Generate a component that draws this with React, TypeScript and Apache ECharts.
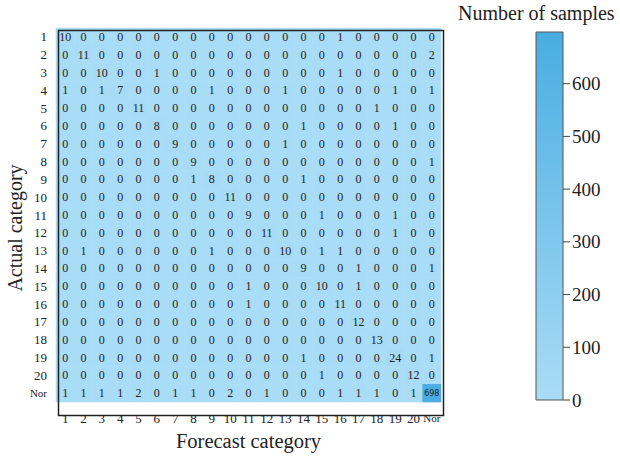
import React, { useEffect, useRef } from "react";
import * as echarts from "echarts";

const categories = ["1","2","3","4","5","6","7","8","9","10","11","12","13","14","15","16","17","18","19","20","Nor"];

// rows = actual category, columns = forecast category
const confusion: number[][] = [
  [10,0,0,0,0,0,0,0,0,0, 0,0,0,0,0,1,0,0,0,0,0],
  [0,11,0,0,0,0,0,0,0,0, 0,0,0,0,0,0,0,0,0,0,2],
  [0,0,10,0,0,1,0,0,0,0, 0,0,0,0,0,1,0,0,0,0,0],
  [1,0,1,7,0,0,0,0,1,0, 0,0,1,0,0,0,0,0,1,0,1],
  [0,0,0,0,11,0,0,0,0,0, 0,0,0,0,0,0,0,1,0,0,0],
  [0,0,0,0,0,8,0,0,0,0, 0,0,0,1,0,0,0,0,1,0,0],
  [0,0,0,0,0,0,9,0,0,0, 0,0,1,0,0,0,0,0,0,0,0],
  [0,0,0,0,0,0,0,9,0,0, 0,0,0,0,0,0,0,0,0,0,1],
  [0,0,0,0,0,0,0,1,8,0, 0,0,0,1,0,0,0,0,0,0,0],
  [0,0,0,0,0,0,0,0,0,11, 0,0,0,0,0,0,0,0,0,0,0],
  [0,0,0,0,0,0,0,0,0,0, 9,0,0,0,1,0,0,0,1,0,0],
  [0,0,0,0,0,0,0,0,0,0, 0,11,0,0,0,0,0,0,1,0,0],
  [0,1,0,0,0,0,0,0,1,0, 0,0,10,0,1,1,0,0,0,0,0],
  [0,0,0,0,0,0,0,0,0,0, 0,0,0,9,0,0,1,0,0,0,1],
  [0,0,0,0,0,0,0,0,0,0, 1,0,0,0,10,0,1,0,0,0,0],
  [0,0,0,0,0,0,0,0,0,0, 1,0,0,0,0,11,0,0,0,0,0],
  [0,0,0,0,0,0,0,0,0,0, 0,0,0,0,0,0,12,0,0,0,0],
  [0,0,0,0,0,0,0,0,0,0, 0,0,0,0,0,0,0,13,0,0,0],
  [0,0,0,0,0,0,0,0,0,0, 0,0,0,1,0,0,0,0,24,0,1],
  [0,0,0,0,0,0,0,0,0,0, 0,0,0,0,1,0,0,0,0,12,0],
  [1,1,1,1,2,0,1,1,0,2, 0,1,0,0,0,1,1,1,0,1,698],
];

const colorbarTicks = [0, 100, 200, 300, 400, 500, 600];
const colorMax = 698;

const SERIF = "'Liberation Serif', serif";
const LIGHT = "#a9dcf6";
const DARK = "#49ade2";

export default function App() {
  const ref = useRef<HTMLDivElement>(null);
  useEffect(() => {
    if (!ref.current) return;
    const chart = echarts.init(ref.current, undefined, { renderer: "svg" });
    const data: any[] = [];
    confusion.forEach((row, yi) => {
      row.forEach((v, xi) => {
        const big = v >= 100;
        data.push({
          value: [xi, yi, v],
          label: big ? { fontSize: 8, fontFamily: "'DejaVu Sans', sans-serif", color: "#222" } : undefined,
        });
      });
    });
    const catLabel = {
      fontFamily: SERIF,
      fontSize: 13,
      color: "#222",
      interval: 0,
      formatter: (v: string) => (v === "Nor" ? "{n|Nor}" : v),
      rich: { n: { fontSize: 11, fontFamily: SERIF, color: "#222" } },
    };
    chart.setOption({
      animation: false,
      backgroundColor: "#ffffff",
      textStyle: { fontFamily: SERIF },
      title: {
        text: "Number of samples",
        left: 458,
        top: 3,
        padding: 0,
        textStyle: { fontFamily: SERIF, fontSize: 20, fontWeight: "normal", color: "#222" },
      },
      grid: [
        { left: 56, top: 28, width: 385, height: 385 },
        {
          left: 536, top: 32, width: 27, height: 368, show: true,
          borderColor: "#555", borderWidth: 1,
          backgroundColor: new echarts.graphic.LinearGradient(0, 0, 0, 1, [
            { offset: 0, color: DARK },
            { offset: 1, color: LIGHT },
          ]),
        },
      ],
      xAxis: [
        {
          type: "category", data: categories, gridIndex: 0,
          axisLine: { show: false }, axisTick: { show: false },
          axisLabel: { ...catLabel, margin: 10 },
          splitLine: { show: false },
          name: "Forecast category", nameLocation: "middle", nameGap: 17,
          nameTextStyle: { fontFamily: SERIF, fontSize: 20.5, color: "#222", verticalAlign: "top" },
        },
        { type: "value", gridIndex: 1, show: false, min: 0, max: 1 },
      ],
      yAxis: [
        {
          type: "category", data: categories, gridIndex: 0, inverse: true,
          axisLine: { show: false }, axisTick: { show: false },
          axisLabel: { ...catLabel, margin: 9 },
          splitLine: { show: false },
        },
        {
          type: "value", gridIndex: 1, position: "right", offset: 0, min: 0, max: colorMax,
          axisLine: { show: false },
          axisTick: { show: false },
          axisLabel: { fontFamily: SERIF, fontSize: 19, color: "#222", margin: 9, customValues: colorbarTicks },
          splitLine: { show: false },
        },
      ],
      visualMap: {
        show: false, min: 0, max: colorMax, dimension: 2, seriesIndex: 0,
        inRange: { color: [LIGHT, DARK] },
      },
      series: [
        {
          type: "heatmap", xAxisIndex: 0, yAxisIndex: 0, data,
          label: { show: true, fontFamily: SERIF, fontSize: 12, color: "#222" },
          itemStyle: { borderWidth: 0 },
          emphasis: { disabled: true },
        },
        {
          type: "custom", xAxisIndex: 1, yAxisIndex: 1, clip: false, silent: true,
          data: colorbarTicks.map((v) => [1, v]),
          renderItem: (_params: any, api: any) => {
            const p = api.coord([1, api.value(1)]);
            return {
              type: "line",
              shape: { x1: p[0], y1: p[1], x2: p[0] + 7, y2: p[1] },
              style: { stroke: "#444", lineWidth: 1 },
            };
          },
        },
      ],
      graphic: [
        {
          type: "rect", left: 56, top: 28, z: 100,
          shape: { width: 385, height: 385 },
          style: { fill: "none", stroke: "#222", lineWidth: 1.5 },
        },
        {
          type: "text", x: 15, y: 228, rotation: Math.PI / 2, z: 100,
          style: {
            text: "Actual category", fontFamily: SERIF, fontSize: 20,
            fill: "#222", align: "center", verticalAlign: "middle",
          },
        },
      ],
    });
    return () => chart.dispose();
  }, []);
  return (
    <div
      ref={ref}
      style={{ position: "absolute", left: 0, top: 0, width: 620, height: 456 }}
    />
  );
}
